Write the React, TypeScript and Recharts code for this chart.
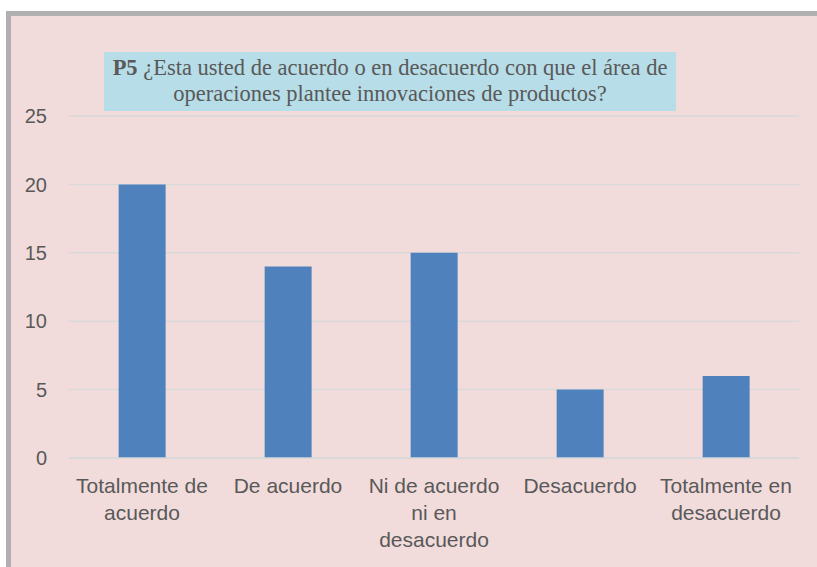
import {Bar, BarChart, CartesianGrid, XAxis, YAxis} from "recharts";

const categories = [
    "Totalmente de\nacuerdo",
    "De acuerdo",
    "Ni de acuerdo\nni en\ndesacuerdo",
    "Desacuerdo",
    "Totalmente en\ndesacuerdo",
];
const values = [20, 14, 15, 5, 6];
const yTicks = [0, 5, 10, 15, 20, 25];

const data = categories.map((c, i) => ({name: c, value: values[i]}));

const TEXT = "#595959";
const SANS = "'Liberation Sans', Arial, sans-serif";

function WrapTick(props: any) {
    const {x, y, payload} = props;
    const lines = String(payload.value).split("\n");
    return (
        <text x={x} y={y} textAnchor="middle" fill={TEXT} fontSize={21} fontFamily={SANS}>
            {lines.map((l, i) => (
                <tspan key={i} x={x} dy={i === 0 ? 35 : 27}>{l}</tspan>
            ))}
        </text>
    );
}

export default function App() {
    return (
        <div style={{position: "fixed", left: 0, top: 0, width: 817, height: 567, overflow: "hidden", background: "#fff"}}>
            <div style={{position: "absolute", left: 6, top: 11, width: 811, height: 556, background: "#B0B0B0"}}/>
            <div style={{position: "absolute", left: 11, top: 16, width: 806, height: 551, background: "#F2DCDB"}}/>
            <div style={{position: "absolute", left: 0, top: 0}}>
                <BarChart width={817} height={567} data={data}
                          margin={{top: 116, right: 18, bottom: 9, left: 9}}
                          barCategoryGap="34%">
                    <CartesianGrid vertical={false} stroke="#D9D9D9" strokeWidth={1.5}/>
                    <XAxis dataKey="name" axisLine={{stroke: "#D9D9D9", strokeWidth: 1.5}} tickLine={false}
                           tickSize={0} tickMargin={0} height={100} interval={0} tick={<WrapTick/>}/>
                    <YAxis domain={[0, 25]} ticks={yTicks} width={60} axisLine={false} tickLine={false}
                           tickSize={0} tickMargin={22}
                           tick={{fill: TEXT, fontSize: 20, fontFamily: SANS}}/>
                    <Bar dataKey="value" fill="#4F81BD" isAnimationActive={false}/>
                </BarChart>
            </div>
            <div style={{
                position: "absolute", left: 104, top: 52, width: 572, height: 59,
                background: "#B7DDE8", color: TEXT, textAlign: "center",
                fontFamily: "'Liberation Serif', 'Times New Roman', serif", fontSize: 22.5,
                lineHeight: "26px", paddingTop: 3, boxSizing: "border-box", whiteSpace: "nowrap"
            }}>
                <b>P5</b> ¿Esta usted de acuerdo o en desacuerdo con que el área de<br/>
                operaciones plantee innovaciones de productos?
            </div>
        </div>
    );
}
